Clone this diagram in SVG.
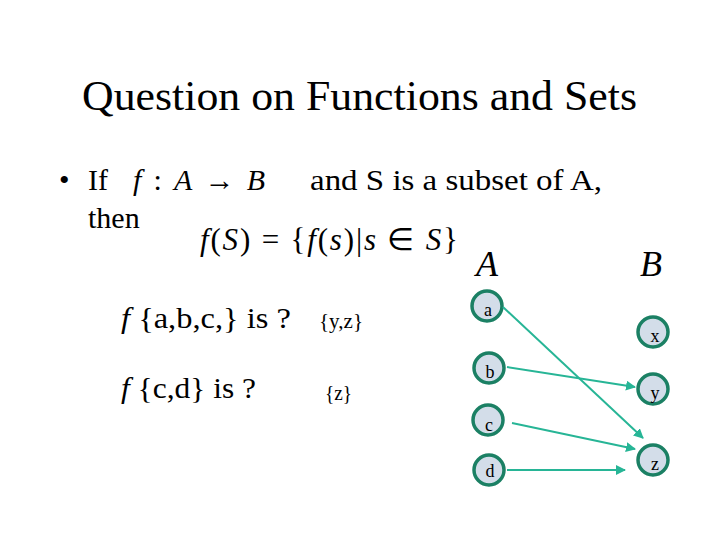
<svg xmlns="http://www.w3.org/2000/svg" width="720" height="540" viewBox="0 0 720 540">
<defs>
<style>
.t{font-family:"Liberation Serif","Times New Roman",serif;fill:#000}
.m{font-family:"Liberation Serif","Times New Roman",serif;font-style:italic;fill:#000}
.n circle{fill:#d3dde9;stroke:#1b8064;stroke-width:3.5}
.n text{font-family:"Liberation Serif",serif;font-size:18px;text-anchor:middle;fill:#000}
.c line{stroke:#27b596;stroke-width:2;marker-end:url(#ah)}
</style>
<marker id="ah" viewBox="0 0 10 10" refX="9" refY="5" markerWidth="5" markerHeight="5" orient="auto" markerUnits="strokeWidth">
<path d="M0,0 L10,5 L0,10 z" fill="#27b596"/>
</marker>
</defs>
<rect width="720" height="540" fill="#fff"/>
<text class="t" x="82" y="110" font-size="43" textLength="555" lengthAdjust="spacingAndGlyphs">Question on Functions and Sets</text>
<text class="t" x="59" y="190" font-size="30">•</text>
<text class="t" x="88" y="190" font-size="30">If</text>
<text class="m" x="133" y="190" font-size="30" textLength="132" lengthAdjust="spacing">f<tspan font-style="normal"> : </tspan>A<tspan font-style="normal"> → </tspan>B</text>
<text class="t" x="310" y="190" font-size="30" textLength="292" lengthAdjust="spacingAndGlyphs">and  S is a subset of A,</text>
<text class="t" x="88" y="228" font-size="30">then</text>
<text class="m" x="200" y="250" font-size="31" textLength="258" lengthAdjust="spacing">f<tspan font-style="normal">(</tspan>S<tspan font-style="normal">) = {</tspan>f<tspan font-style="normal">(</tspan>s<tspan font-style="normal">)|</tspan>s<tspan font-style="normal"> ∈ </tspan>S<tspan font-style="normal">}</tspan></text>
<text class="m" x="476" y="276" font-size="36">A</text>
<text class="m" x="640" y="276" font-size="36">B</text>
<text class="t" x="121" y="328" font-size="29" textLength="170" lengthAdjust="spacingAndGlyphs"><tspan font-style="italic">f</tspan> {a,b,c,} is ?</text>
<text class="t" x="319" y="328" font-size="20" textLength="44" lengthAdjust="spacingAndGlyphs">{y,z}</text>
<text class="t" x="121" y="398" font-size="29" textLength="135" lengthAdjust="spacingAndGlyphs"><tspan font-style="italic">f</tspan> {c,d} is ?</text>
<text class="t" x="325" y="400" font-size="20" textLength="27" lengthAdjust="spacingAndGlyphs">{z}</text>
<g id="node-a" class="n"><circle cx="487" cy="306" r="15"/><text x="488" y="316">a</text></g>
<g id="node-b" class="n"><circle cx="489" cy="368" r="15"/><text x="490" y="378">b</text></g>
<g id="node-c" class="n"><circle cx="488" cy="420" r="15"/><text x="489" y="431">c</text></g>
<g id="node-d" class="n"><circle cx="489" cy="470" r="15"/><text x="490" y="477">d</text></g>
<g id="node-x" class="n"><circle cx="653" cy="332" r="15"/><text x="655" y="342">x</text></g>
<g id="node-y" class="n"><circle cx="653" cy="389" r="15"/><text x="655" y="399">y</text></g>
<g id="node-z" class="n"><circle cx="653" cy="460" r="15"/><text x="655" y="470">z</text></g>
<g id="connectors" class="c">
<line x1="503" y1="307" x2="643" y2="438"/>
<line x1="507" y1="367" x2="635" y2="387"/>
<line x1="512" y1="423" x2="635" y2="449"/>
<line x1="507" y1="470" x2="625" y2="470"/>
</g>
</svg>
